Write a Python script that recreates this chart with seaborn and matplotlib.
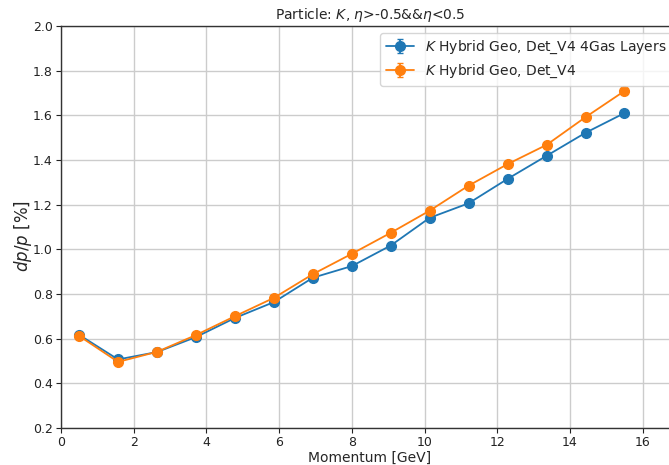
import numpy as np
import pandas as pd
import matplotlib
matplotlib.use("Agg")
import matplotlib.pyplot as plt
import seaborn as sns

momentum = [0.5, 1.57, 2.64, 3.71, 4.79, 5.86, 6.93, 8.0, 9.07, 10.14, 11.21, 12.29, 13.36, 14.43, 15.5]
dpp_4gas = [0.617, 0.507, 0.540, 0.607, 0.693, 0.764, 0.873, 0.925, 1.017, 1.141, 1.206, 1.316, 1.419, 1.522, 1.610]
dpp_v4 = [0.612, 0.496, 0.541, 0.616, 0.701, 0.783, 0.889, 0.980, 1.074, 1.173, 1.285, 1.382, 1.468, 1.592, 1.709]
labels = [r"$K$ Hybrid Geo, Det_V4 4Gas Layers", r"$K$ Hybrid Geo, Det_V4"]
colors = ["#1f77b4", "#ff7f0e"]

df = pd.concat([
    pd.DataFrame({"Momentum": momentum, "dpp": dpp_4gas, "series": labels[0]}),
    pd.DataFrame({"Momentum": momentum, "dpp": dpp_v4, "series": labels[1]}),
])

sns.set_style("ticks")
plt.rcParams["font.family"] = ["DejaVu Sans"]

fig = plt.figure(figsize=(6.69, 4.65), dpi=100)
ax = fig.add_axes([61 / 669, 37 / 465, 618 / 669, 402 / 465])

for lab, col in zip(labels, colors):
    sub = df[df["series"] == lab]
    ax.errorbar(sub["Momentum"], sub["dpp"], yerr=np.zeros(len(sub)), fmt="-o",
                color=col, markersize=7, linewidth=1.3, capsize=2, label=lab)

ax.set_xlim(0, 17)
ax.set_ylim(0.2, 2.0)
ax.set_xticks(np.arange(0, 17, 2))
ax.set_yticks(np.arange(0.2, 2.01, 0.2))
ax.set_yticklabels([f"{v:.1f}" for v in np.arange(0.2, 2.01, 0.2)])
ax.grid(True, color="#cccccc", linewidth=1.0)
ax.tick_params(labelsize=9, colors="#222222", length=3.5, width=0.8, pad=2.5)
for s in ax.spines.values():
    s.set_color("#333333")
    s.set_linewidth(1.0)

ax.set_xlabel("Momentum [GeV]", fontsize=10, labelpad=1)
ax.set_ylabel(r"$dp/p$ [%]", fontsize=12)
ax.yaxis.set_label_coords(-27 / 618, (428 - 236) / 402)
ax.set_title(r"Particle: $K$, $\eta$>-0.5&&$\eta$<0.5", fontsize=10, pad=5)
ax.legend(loc="upper right", fontsize=10, framealpha=0.8, borderaxespad=0.5)

fig.savefig("out.png", dpi=100)
